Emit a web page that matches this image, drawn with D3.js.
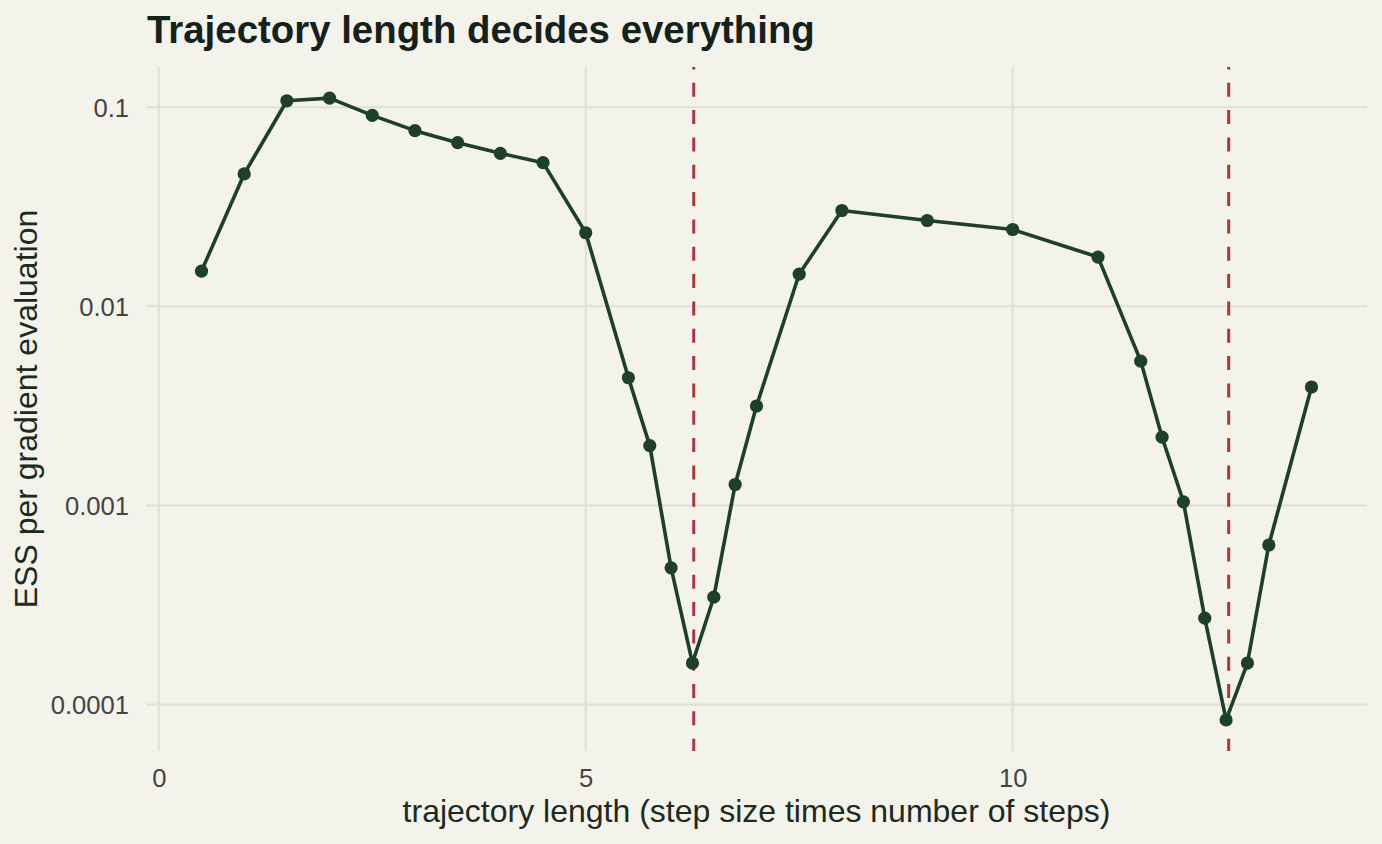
<!DOCTYPE html>
<html>
<head>
<meta charset="utf-8">
<script src="https://cdn.jsdelivr.net/npm/d3@7"></script>
<style>
  html, body { margin: 0; padding: 0; background: #f3f2eb; }
  svg { display: block; }
</style>
</head>
<body>
<svg id="chart" width="1382" height="844"></svg>
<script>
// ---- data ----
const trajLength = [0.5, 1, 1.5, 2, 2.5, 3, 3.5, 4, 4.5, 5, 5.5, 5.75, 6, 6.25, 6.5, 6.75, 7, 7.5, 8, 9, 10, 11, 11.5, 11.75, 12, 12.25, 12.5, 12.75, 13, 13.5];
const essPerGrad = [0.01504, 0.04627, 0.1078, 0.1112, 0.0910, 0.0763, 0.0664, 0.0587, 0.0527, 0.02343,
                    0.004378, 0.001998, 0.000486, 0.0001616, 0.000346, 0.001274, 0.003159, 0.01453, 0.03030, 0.02700,
                    0.02433, 0.01768, 0.005307, 0.002202, 0.001043, 0.0002716, 0.0000837, 0.0001616, 0.000633, 0.003934];
const refLines = [6.265, 12.53];
const xTicks = [0, 5, 10];
const yTicks = [0.1, 0.01, 0.001, 0.0001];
const yTickLabels = ["0.1", "0.01", "0.001", "0.0001"];
const titleText = "Trajectory length decides everything";
const xTitle = "trajectory length (step size times number of steps)";
const yTitle = "ESS per gradient evaluation";

// ---- layout ----
const W = 1382, H = 844;
const panel = { left: 146, right: 1367, top: 67, bottom: 751 };
const font = "'Liberation Sans', Arial, Helvetica, sans-serif";
const colLine = "#1e3f2c", colRef = "#a8383a", colGrid = "#e0dfd5";

const svg = d3.select("#chart");
svg.append("rect").attr("width", W).attr("height", H).attr("fill", "#f3f2eb");

// scales with 5% expansion (like ggplot)
const xe = d3.extent(trajLength), xr = xe[1] - xe[0];
const x = d3.scaleLinear()
  .domain([xe[0] - 0.05 * xr, xe[1] + 0.05 * xr])
  .range([panel.left, panel.right]);
const le = d3.extent(essPerGrad).map(Math.log10), lr = le[1] - le[0];
const y = d3.scaleLog()
  .domain([Math.pow(10, le[0] - 0.05 * lr), Math.pow(10, le[1] + 0.05 * lr)])
  .range([panel.bottom, panel.top]);

// grid
const grid = svg.append("g");
grid.selectAll("line.h").data(yTicks).join("line")
  .attr("x1", panel.left).attr("x2", panel.right)
  .attr("y1", d => y(d)).attr("y2", d => y(d))
  .attr("stroke", colGrid).attr("stroke-width", 2);
grid.selectAll("line.v").data(xTicks).join("line")
  .attr("y1", panel.top).attr("y2", panel.bottom)
  .attr("x1", d => x(d)).attr("x2", d => x(d))
  .attr("stroke", colGrid).attr("stroke-width", 2);

// axes (text only)
const xAxis = d3.axisBottom(x).tickValues(xTicks).tickSize(0).tickPadding(0).tickFormat(d3.format("d"));
const gx = svg.append("g").attr("transform", `translate(0,${panel.bottom})`).call(xAxis);
gx.select(".domain").remove();
gx.selectAll("text").attr("font-family", font).attr("font-size", 25.6).attr("fill", "#444444")
  .attr("dy", null).attr("y", 36);

const yAxis = d3.axisLeft(y).tickValues(yTicks).tickSize(0).tickPadding(0)
  .tickFormat((d, i) => yTickLabels[i]);
const gy = svg.append("g").attr("transform", `translate(${panel.left - 17},0)`).call(yAxis);
gy.select(".domain").remove();
gy.selectAll("text").attr("font-family", font).attr("font-size", 25.6).attr("fill", "#444444")
  .attr("x", 0).attr("dy", "0.35em");

// reference lines (drawn bottom -> top)
svg.append("g").selectAll("line").data(refLines).join("line")
  .attr("x1", d => x(d)).attr("x2", d => x(d))
  .attr("y1", panel.bottom).attr("y2", panel.top)
  .attr("stroke", colRef).attr("stroke-width", 3)
  .attr("stroke-dasharray", "14,13.33").attr("stroke-dashoffset", 1.7);

// line + points
const pts = trajLength.map((t, i) => [t, essPerGrad[i]]);
svg.append("path").datum(pts)
  .attr("fill", "none").attr("stroke", colLine).attr("stroke-width", 3.6)
  .attr("stroke-linejoin", "round")
  .attr("d", d3.line().x(d => x(d[0])).y(d => y(d[1])));
svg.append("g").selectAll("circle").data(pts).join("circle")
  .attr("cx", d => x(d[0])).attr("cy", d => y(d[1])).attr("r", 6.6)
  .attr("fill", colLine);

// titles
svg.append("text").attr("x", 147).attr("y", 43)
  .attr("font-family", font).attr("font-weight", "bold").attr("font-size", 38.4)
  .attr("fill", "#15211a").text(titleText);
svg.append("text").attr("x", (panel.left + panel.right) / 2).attr("y", 822)
  .attr("text-anchor", "middle").attr("font-family", font).attr("font-size", 32)
  .attr("fill", "#1c2a21").text(xTitle);
svg.append("text")
  .attr("transform", `translate(37,${(panel.top + panel.bottom) / 2}) rotate(-90)`)
  .attr("text-anchor", "middle").attr("font-family", font).attr("font-size", 32)
  .attr("fill", "#1c2a21").text(yTitle);
</script>
</body>
</html>
